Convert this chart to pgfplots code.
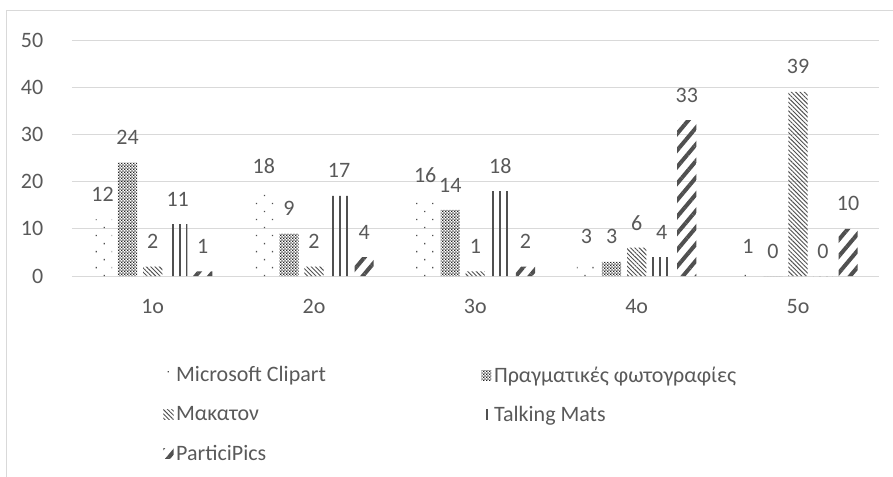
\documentclass[border=0pt]{standalone}
\usepackage{pgfplots}
\pgfplotsset{compat=1.18}
\usepackage{fontspec}
\setmainfont{Carlito}
\usetikzlibrary{patterns,patterns.meta}
\definecolor{txt}{HTML}{595959}
\definecolor{pat}{HTML}{505050}
\definecolor{grd}{HTML}{D9D9D9}
\tikzdeclarepattern{name=checker, type=uncolored,
  bounding box={(0,0) and (2.4pt,2.4pt)}, tile size={(2.4pt,2.4pt)},
  code={\fill (0,0) rectangle (1.2pt,1.2pt); \fill (1.2pt,1.2pt) rectangle (2.4pt,2.4pt);}}
\begin{document}
\begin{tikzpicture}
\begin{axis}[
    at={(0,0)}, anchor=south west,
    scale only axis, width=605pt, height=177pt,
    ybar=4.4pt, bar width=14.4pt,
    xmin=-0.5, xmax=4.5, ymin=0, ymax=50,
    xtick=data, xticklabels={1ο,2ο,3ο,4ο,5ο},
    ytick={0,10,20,30,40,50},
    ymajorgrids, grid style={grd, line width=0.75pt},
    axis line style={draw=none}, major tick length=0pt,
    tick label style={font=\fontsize{16.5}{19}\selectfont, text=txt},
    /pgf/number format/assume math mode=true,
    xticklabel style={anchor=center, yshift=-23pt},
    yticklabel style={anchor=east, xshift=-18pt},
    nodes near coords,
    nodes near coords style={font=\fontsize{16.5}{19}\selectfont, text=txt, anchor=center, yshift=18.75pt},
    every axis plot/.append style={draw=none, pattern color=pat},
    legend columns=2,
    legend cell align=left,
    legend style={at={(0.108,-0.36)}, anchor=north west, draw=none, fill=none,
      font=\fontsize{16.5}{19}\selectfont, text=txt, row sep=12.4pt,
      /tikz/every even column/.append style={column sep=114.5pt}},
    legend image code/.code={\fill[#1] (0pt,-3.8pt) rectangle (7.6pt,3.8pt);},
]
\addplot[pattern={Dots[radius=0.7pt, distance=8.5pt, angle=45]}] coordinates {(0,12) (1,18) (2,16) (3,3) (4,1)};
\addlegendentry{Microsoft Clipart}
\addplot[pattern=checker, pattern color=black!85] coordinates {(0,24) (1,9) (2,14) (3,3) (4,0)};
\addlegendentry{Πραγματικές φωτογραφίες}
\addplot[pattern={Lines[angle=-45, distance=2.3pt, line width=0.7pt]}] coordinates {(0,2) (1,2) (2,1) (3,6) (4,39)};
\addlegendentry{Μακατον}
\addplot[pattern={Lines[angle=90, distance=5pt, line width=1.6pt]}] coordinates {(0,11) (1,17) (2,18) (3,4) (4,0)};
\addlegendentry{Talking Mats}
\addplot[pattern={Lines[angle=50, distance=8pt, line width=3pt]}] coordinates {(0,1) (1,4) (2,2) (3,33) (4,10)};
\addlegendentry{ParticiPics}
\end{axis}
\draw[grd, line width=0.75pt] (-48.75pt,-170pt) rectangle (640pt,199pt);
\pgfresetboundingbox
\path (-54pt,-150pt) rectangle (615.75pt,207pt);
\end{tikzpicture}
\end{document}
